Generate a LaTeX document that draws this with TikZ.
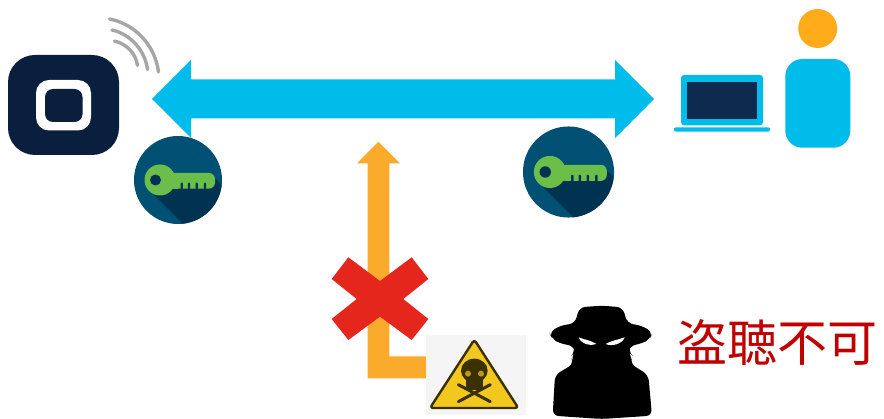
\documentclass[tikz,border=0pt]{standalone}
\usepackage{fontspec}
\newfontfamily\cjk{Noto Sans CJK JP}
\definecolor{navy}{HTML}{0A1F3E}
\definecolor{screen}{HTML}{0F2A4F}
\definecolor{skyb}{HTML}{00BCEB}
\definecolor{amber}{HTML}{FBAB2C}
\definecolor{headc}{HTML}{FFAB1A}
\definecolor{crossred}{HTML}{E4261C}
\definecolor{keybg}{HTML}{005073}
\definecolor{keysh}{HTML}{003352}
\definecolor{keyg}{HTML}{6CBE4B}
\definecolor{wifi}{HTML}{A6A6A6}
\definecolor{warny}{HTML}{F2C81E}
\definecolor{warnd}{HTML}{3A3000}
\definecolor{warnbg}{HTML}{F5F5F5}
\definecolor{txtred}{HTML}{C00000}
\tikzset{
  wave/.style={draw=wifi,line width=3.4pt,line cap=round},
  bone/.style={draw=warnd,line width=3pt,line cap=round}
}
\newcommand{\keyicon}[3]{%
  \begin{scope}[shift={(#1,#2)},scale=#3]
    \fill[keybg] (0,0) circle (44pt);
    \begin{scope}
      \clip (0,0) circle (44pt);
      \fill[keysh] (-30,9) -- (9,48) -- (60,48) -- (60,23) -- (35,-4) -- (-20,-4) -- cycle;
    \end{scope}
    \fill[keyg,rounded corners=6pt] (-18,-7) -- (37,-7) -- (37,8.6) -- (-18,8.6) -- cycle;
    \fill[keyg] (-18,-7) rectangle (0,8.6);
    \fill[keyg] (-18,0) circle (15.5pt);
    \foreach \tx in {3.7,11,18.7,27}{
      \fill[keysh,rounded corners=0.8pt] (\tx-1.2,2.7) -- (\tx+1.2,2.7) -- (\tx+1.2,9) -- (\tx-1.2,9) -- cycle;
    }
    \fill[keysh] (-22.5,0) circle (5.5pt);
  \end{scope}}
\begin{document}
\begin{tikzpicture}[x=1pt,y=-1pt]
\useasboundingbox (0,0) rectangle (884,419);
\fill[white] (0,0) rectangle (884,419);
% device
\fill[navy,rounded corners=27pt] (8,55) rectangle (119,155);
\fill[white,rounded corners=13pt] (36,80) rectangle (91,130.5);
\fill[navy,rounded corners=8pt] (45,89) rectangle (82.5,122);
% wifi
\draw[wave] (109.5,19) .. controls (135,24) and (155,45) .. (158.5,72);
\draw[wave] (112,30) .. controls (130,34) and (145,50) .. (147.5,69.5);
\draw[wave] (114.5,41) .. controls (127,44) and (136,54) .. (137.5,65.5);
% double arrow
\fill[skyb] (152,99) -- (191,60) -- (191,79.5) -- (615,79.5) -- (615,60) -- (654,99)
  -- (615,138) -- (615,118.5) -- (191,118.5) -- (191,138) -- cycle;
% keys
\keyicon{178}{180}{1}
\keyicon{568.5}{172}{1.035}
% laptop
\fill[skyb,rounded corners=3pt] (681,75) rectangle (763,125.3);
\fill[screen] (687.3,81.7) rectangle (756.7,119);
\fill[skyb,rounded corners=2pt] (674,127.3) rectangle (770,131.7);
% person
\fill[headc] (817.7,28.5) circle (19.5pt);
\fill[skyb,rounded corners=17pt] (785.3,59) rectangle (850.3,147.7);
% orange arrow
\fill[amber] (378.3,141.7) -- (400,163.3) -- (389.3,163.3) -- (389.3,356.3) -- (426,356.3)
  -- (426,378.3) -- (367.5,378.3) -- (367.5,163.3) -- (357,163.3) -- cycle;
% red cross
\begin{scope}[shift={(320,240)},scale=0.33333]
  \fill[crossred] (85,52) -- (180,123) -- (275,52) -- (325,117) -- (250,177) -- (325,237)
    -- (275,300) -- (180,230) -- (85,300) -- (35,237) -- (110,177) -- (35,117) -- cycle;
\end{scope}
% warning sign
\fill[warnbg] (426,335) rectangle (526,415);
\begin{scope}[shift={(425,333)},scale=0.33333]
  \filldraw[fill=warny,draw=warnd,line width=2.4pt,line join=round,rounded corners=3pt]
    (148,20) -- (280,225) -- (15,225) -- cycle;
  \draw[bone] (100,155) -- (196,206);
  \draw[bone] (196,155) -- (100,206);
  \fill[warnd] (148,113) ellipse (40pt and 36pt);
  \fill[warnd] (122,130) rectangle (175,170);
  \fill[warny!70!warnd] (129,122) circle (9pt);
  \fill[warny!70!warnd] (168,122) circle (9pt);
\end{scope}
% spy
\begin{scope}[shift={(540,295)},scale=0.33333]
  \fill[black,rounded corners=6pt] (118,37) -- (185,32) -- (248,37) -- (262,85) -- (305,92)
    -- (338,112) -- (330,132) -- (305,146) -- (270,152) -- (265,170) -- (277,182) -- (270,205)
    -- (287,216) -- (325,240) -- (336,362) -- (185,372) -- (38,362) -- (45,240) -- (85,216)
    -- (102,205) -- (92,185) -- (106,170) -- (100,152) -- (60,146) -- (35,130) -- (28,112)
    -- (60,92) -- (105,85) -- cycle;
  \fill[white] (116,127) .. controls (130,133) and (155,137) .. (170,147)
    .. controls (150,154) and (124,148) .. (116,127) -- cycle;
  \fill[white] (254,127) .. controls (240,133) and (212,137) .. (197,147)
    .. controls (215,155) and (246,148) .. (254,127) -- cycle;
\end{scope}
% label
\node[text=txtred,font=\cjk\fontsize{50}{50}\selectfont,inner sep=0pt] (label) at (777,342.5) {盗聴不可};
\end{tikzpicture}
\end{document}
